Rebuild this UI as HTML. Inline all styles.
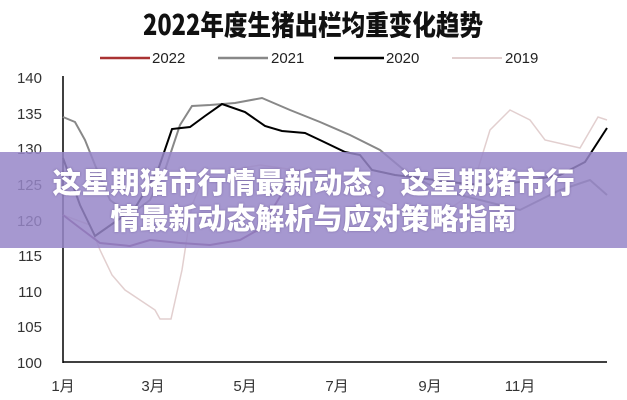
<!DOCTYPE html>
<html><head><meta charset="utf-8"><style>
html,body{margin:0;padding:0;background:#fff;}
#w{position:relative;width:627px;height:400px;overflow:hidden;background:#fff;font-family:"Liberation Sans","Noto Sans CJK SC",sans-serif;}
#ban{position:absolute;left:0;top:152px;width:627px;height:96px;background:rgba(150,134,200,0.85);}
#bt{position:absolute;left:0;top:163px;width:627px;text-align:center;color:#fff;font-weight:900;font-size:29px;line-height:36px;font-family:"Noto Sans CJK SC",sans-serif;text-shadow:0 0 2px rgba(80,60,120,0.5);}
</style></head><body><div id="w">
<svg width="627" height="400" style="position:absolute;left:0;top:0">
<text x="313" y="35" text-anchor="middle" font-size="28" font-weight="900" fill="#111" font-family="Noto Sans CJK SC,sans-serif" textLength="340" lengthAdjust="spacingAndGlyphs">2022年度生猪出栏均重变化趋势</text>
<g font-size="15" fill="#222" font-family="Liberation Sans,sans-serif">
<line x1="100" y1="58" x2="150" y2="58" stroke="#a33" stroke-width="2.5"/><text x="152" y="63">2022</text>
<line x1="218" y1="58" x2="268" y2="58" stroke="#888" stroke-width="2.5"/><text x="271" y="63">2021</text>
<line x1="334" y1="58" x2="384" y2="58" stroke="#000" stroke-width="2.5"/><text x="386" y="63">2020</text>
<line x1="452" y1="58" x2="502" y2="58" stroke="#e2cfcf" stroke-width="2"/><text x="505" y="63">2019</text>
</g>
<g font-size="15" fill="#333" text-anchor="end" font-family="Liberation Sans,sans-serif">
<text x="42" y="83">140</text><text x="42" y="119">135</text><text x="42" y="154">130</text><text x="42" y="190">125</text><text x="42" y="226">120</text><text x="42" y="261">115</text><text x="42" y="297">110</text><text x="42" y="332">105</text><text x="42" y="368">100</text>
</g>
<g font-size="15" fill="#333" text-anchor="middle" font-family="Liberation Sans,Noto Sans CJK SC,sans-serif">
<text x="63" y="391">1月</text><text x="153" y="391">3月</text><text x="245" y="391">5月</text><text x="337" y="391">7月</text><text x="430" y="391">9月</text><text x="520" y="391">11月</text>
</g>
<line x1="63" y1="76" x2="63" y2="363" stroke="#000" stroke-width="1.5"/>
<line x1="63" y1="362" x2="607" y2="362" stroke="#000" stroke-width="1.5"/>
<polyline fill="none" stroke="#e2cfcf" stroke-width="1.5" points="63,215 90,225 100,250 112,275 125,290 140,300 155,310 160,319 171,319 182,270 192,205 205,175 260,165 330,175 400,210 440,215 470,195 490,130 510,110 530,120 545,140 580,148 598,117 607,120"/>
<polyline fill="none" stroke="#888" stroke-width="2" points="63,117 75,122 85,140 95,165 110,200 130,215 150,200 165,170 180,125 192,106 210,105 235,103 262,98 290,110 320,122 350,135 380,150 410,175 440,190 480,200 520,210 560,190 590,180 607,195"/>
<polyline fill="none" stroke="#000" stroke-width="2" points="63,158 80,205 95,236 115,222 135,208 158,170 172,129 190,127 205,116 222,104 245,112 265,126 282,131 305,133 322,141 345,152 360,155 372,170 395,175 420,178 450,182 480,185 520,182 560,175 585,162 607,128"/>
<polyline fill="none" stroke="#7a3e74" stroke-width="2" points="63,215 80,228 100,243 130,246 150,240 180,243 210,245 240,240 258,230 275,205 290,180 300,170"/>
</svg>
<div id="ban"></div>
<div id="bt">这星期猪市行情最新动态，这星期猪市行<br>情最新动态解析与应对策略指南</div>
</div></body></html>
